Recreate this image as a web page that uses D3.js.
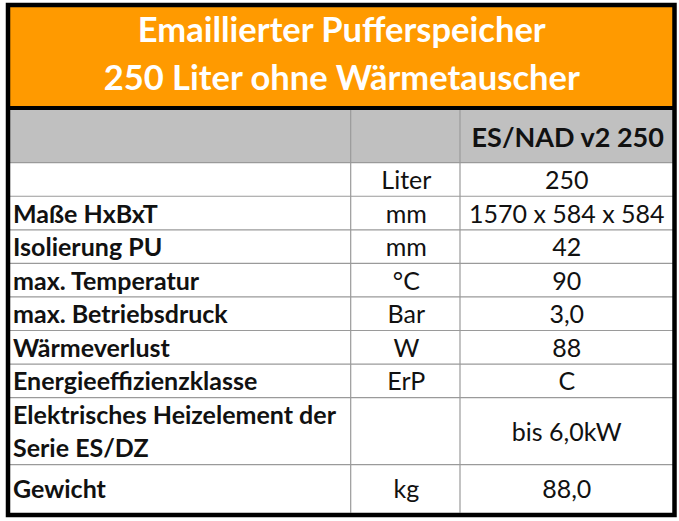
<!DOCTYPE html>
<html><head><meta charset="utf-8">
<script src="https://cdn.jsdelivr.net/npm/d3@7/dist/d3.min.js"></script>
<style>html,body{margin:0;padding:0;background:#fff;}svg{display:block;}</style>
</head><body>
<svg id="c" width="679" height="521"></svg>
<script>
const titleLines = ["Emaillierter Pufferspeicher", "250 Liter ohne Wärmetauscher"];
const modelHeader = "ES/NAD v2 250";
const labels = [[""], ["Maße HxBxT"], ["Isolierung PU"], ["max. Temperatur"], ["max. Betriebsdruck"], ["Wärmeverlust"], ["Energieeffizienzklasse"], ["Elektrisches Heizelement der", "Serie ES/DZ"], ["Gewicht"]];
const units = ["Liter", "mm", "mm", "°C", "Bar", "W", "ErP", "", "kg"];
const values = ["250", "1570 x 584 x 584", "42", "90", "3,0", "88", "C", "bis 6,0kW", "88,0"];

const svg = d3.select("#c");
const font = "Lato, 'Open Sans', sans-serif";
const L = 8, R = 674.5, T = 5, B = 515;
const colX = [L, 350.7, 460, R];
const headTop = 109, headBot = 162.7, tableBot = 512.7;
const bodySize = 25, capOff = 9;

// row weights -> cumulative positions
const weights = labels.map((l, i) => i === labels.length - 1 ? 1.43 : l.length);
const cum = [0]; weights.forEach(w => cum.push(cum[cum.length - 1] + w));
const y = d3.scaleLinear().domain([0, cum[cum.length - 1]]).range([headBot, tableBot]);

// background
svg.append("rect").attr("x", L).attr("y", T).attr("width", R - L).attr("height", headTop - T).attr("fill", "#FF9A00");
svg.append("rect").attr("x", L).attr("y", headTop).attr("width", R - L).attr("height", headBot - headTop).attr("fill", "#C0C0C0");

// title
svg.selectAll("text.title").data(titleLines).join("text")
  .attr("x", (L + R) / 2 + 0.5).attr("y", (d, i) => 42 + i * 48)
  .attr("text-anchor", "middle").attr("fill", "#fff")
  .attr("font-family", font).attr("font-weight", "bold").attr("font-size", 34.5)
  .text(d => d);

// header text
svg.append("text").attr("x", (colX[2] + colX[3]) / 2 + 0.5).attr("y", 147)
  .attr("text-anchor", "middle").attr("font-family", font).attr("font-weight", "bold")
  .attr("font-size", 27).attr("fill", "#111").text(modelHeader);

// grid lines
const g = svg.append("g").attr("stroke", "#9a9a9a").attr("stroke-width", 1.2);
cum.slice(0, -1).forEach(c => g.append("line").attr("x1", L).attr("x2", R).attr("y1", y(c)).attr("y2", y(c)));
[colX[1], colX[2]].forEach(x => g.append("line").attr("x1", x).attr("x2", x).attr("y1", headTop).attr("y2", tableBot));

// rows
const rows = svg.append("g").attr("font-family", font).attr("font-size", bodySize).attr("fill", "#111");
labels.forEach((lines, i) => {
  const cy = (y(cum[i]) + y(cum[i + 1])) / 2 + 0.5;
  const n = lines.length;
  lines.forEach((t, j) => {
    rows.append("text").attr("x", 13).attr("y", cy + capOff + (j - (n - 1) / 2) * 33)
      .attr("font-weight", "bold").text(t);
  });
  rows.append("text").attr("x", (colX[1] + colX[2]) / 2 + 1).attr("y", cy + capOff)
    .attr("text-anchor", "middle").text(units[i]);
  rows.append("text").attr("x", (colX[2] + colX[3]) / 2 - 0.5).attr("y", cy + capOff)
    .attr("text-anchor", "middle").text(values[i]);
});

// thick black lines
svg.append("line").attr("x1", L).attr("x2", R).attr("y1", headTop - 1).attr("y2", headTop - 1).attr("stroke", "#000").attr("stroke-width", 4);
svg.append("rect").attr("x", L).attr("y", T).attr("width", R - L).attr("height", B - T)
  .attr("fill", "none").attr("stroke", "#000").attr("stroke-width", 4.5);
</script>
</body></html>
